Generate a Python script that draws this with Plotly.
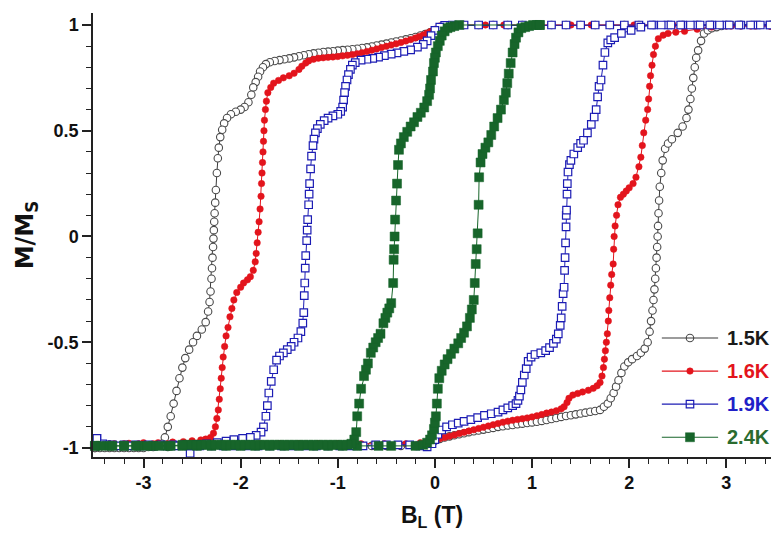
import plotly.graph_objects as go

# ---------------- data (B in tesla, M/Ms) ----------------
labels = ["1.5K", "1.6K", "1.9K", "2.4K"]

p15_dn = [(3.45,1.0),(3.3,1.0),(3.15,1.0),(3.0,1.0),(2.85,1.0),(2.7,1.0),(2.55,1.0),(2.4,1.0),(2.25,1.0),(2.1,1.0),(1.95,1.0),(1.8,1.0),(1.65,1.0),(1.5,1.0),(1.35,1.0),(1.2,1.0),(1.05,1.0),(0.9,1.0),(0.75,1.0),(0.6,1.0),(0.45,1.0),(0.3,1.0),(0.2,0.998),(0.1,0.993),(0.05,0.985),(0.0,0.975),(-0.05,0.965),(-0.1,0.957),(-0.15,0.95),(-0.2,0.943),(-0.25,0.937),(-0.3,0.932),(-0.35,0.927),(-0.4,0.922),(-0.45,0.917),(-0.5,0.912),(-0.55,0.907),(-0.6,0.903),(-0.65,0.898),(-0.7,0.894),(-0.75,0.891),(-0.8,0.888),(-0.85,0.885),(-0.9,0.883),(-0.95,0.881),(-1.0,0.879),(-1.05,0.876),(-1.1,0.874),(-1.15,0.872),(-1.2,0.869),(-1.25,0.866),(-1.3,0.862),(-1.35,0.857),(-1.4,0.852),(-1.45,0.847),(-1.5,0.842),(-1.55,0.838),(-1.6,0.834),(-1.65,0.83),(-1.7,0.824),(-1.74,0.815),(-1.77,0.8),(-1.8,0.78),(-1.82,0.755),(-1.845,0.73),(-1.87,0.705),(-1.89,0.67),(-1.92,0.635),(-1.96,0.612),(-2.0,0.6),(-2.05,0.59),(-2.1,0.578),(-2.14,0.56),(-2.17,0.535),(-2.19,0.505),(-2.21,0.47),(-2.225,0.42),(-2.235,0.37),(-2.245,0.3),(-2.255,0.22),(-2.262,0.16),(-2.268,0.11),(-2.272,0.07),(-2.276,0.03),(-2.28,-0.01),(-2.284,-0.05),(-2.29,-0.1),(-2.295,-0.15),(-2.3,-0.2),(-2.31,-0.26),(-2.32,-0.31),(-2.335,-0.355),(-2.36,-0.405),(-2.4,-0.44),(-2.45,-0.47),(-2.49,-0.5),(-2.53,-0.535),(-2.57,-0.575),(-2.6,-0.62),(-2.63,-0.67),(-2.66,-0.73),(-2.69,-0.79),(-2.72,-0.85),(-2.75,-0.9),(-2.78,-0.95),(-2.81,-0.98),(-2.86,-0.99),(-2.95,-0.995),(-3.05,-1.0),(-3.15,-1.0),(-3.25,-1.0),(-3.35,-1.0),(-3.45,-1.0),(-3.5,-1.0)]

p15_up = [(-3.5,-1.0),(-3.4,-1.0),(-3.3,-1.0),(-3.2,-1.0),(-3.1,-1.0),(-3.0,-1.0),(-2.9,-0.995),(-2.75,-0.995),(-2.6,-0.99),(-2.45,-0.99),(-2.3,-0.99),(-2.15,-0.99),(-2.0,-0.99),(-1.85,-0.99),(-1.7,-0.99),(-1.55,-0.99),(-1.4,-0.99),(-1.25,-0.99),(-1.1,-0.99),(-0.95,-0.99),(-0.8,-0.99),(-0.65,-0.99),(-0.5,-0.99),(-0.35,-0.99),(-0.2,-0.99),(-0.1,-0.985),(-0.05,-0.975),(0.0,-0.965),(0.05,-0.957),(0.1,-0.95),(0.15,-0.945),(0.2,-0.94),(0.25,-0.935),(0.3,-0.93),(0.35,-0.925),(0.4,-0.921),(0.45,-0.917),(0.5,-0.913),(0.55,-0.909),(0.6,-0.905),(0.65,-0.9),(0.7,-0.897),(0.75,-0.894),(0.8,-0.891),(0.85,-0.888),(0.9,-0.885),(0.95,-0.882),(1.0,-0.879),(1.05,-0.876),(1.1,-0.872),(1.15,-0.868),(1.2,-0.863),(1.25,-0.858),(1.3,-0.853),(1.35,-0.849),(1.4,-0.845),(1.45,-0.841),(1.5,-0.837),(1.55,-0.833),(1.6,-0.829),(1.65,-0.825),(1.7,-0.82),(1.74,-0.805),(1.78,-0.79),(1.81,-0.765),(1.84,-0.74),(1.865,-0.71),(1.89,-0.68),(1.92,-0.645),(1.95,-0.615),(1.99,-0.595),(2.03,-0.58),(2.08,-0.565),(2.12,-0.55),(2.16,-0.53),(2.19,-0.5),(2.21,-0.45),(2.225,-0.4),(2.24,-0.35),(2.25,-0.3),(2.26,-0.25),(2.268,-0.2),(2.275,-0.15),(2.282,-0.1),(2.288,-0.05),(2.293,0.0),(2.297,0.05),(2.302,0.11),(2.308,0.17),(2.315,0.235),(2.33,0.3),(2.345,0.36),(2.37,0.415),(2.4,0.44),(2.44,0.46),(2.5,0.49),(2.55,0.52),(2.59,0.56),(2.61,0.6),(2.63,0.65),(2.645,0.7),(2.66,0.75),(2.675,0.8),(2.69,0.845),(2.71,0.88),(2.74,0.925),(2.77,0.96),(2.81,0.975),(2.85,0.985),(2.9,0.99),(2.95,0.995),(3.05,1.0),(3.15,1.0),(3.25,1.0),(3.35,1.0),(3.45,1.0)]

p16_dn = [(3.45,0.995),(3.25,0.995),(3.05,0.995),(2.85,0.995),(2.65,1.0),(2.45,1.0),(2.25,1.0),(2.05,1.0),(1.81,1.0),(1.61,1.0),(1.4,1.0),(1.2,1.0),(1.0,1.0),(0.71,1.0),(0.52,1.0),(0.3,1.0),(0.15,1.0),(0.05,0.995),(0.0,0.98),(-0.04,0.97),(-0.08,0.962),(-0.12,0.953),(-0.16,0.946),(-0.2,0.939),(-0.25,0.931),(-0.3,0.924),(-0.35,0.917),(-0.4,0.911),(-0.45,0.905),(-0.5,0.899),(-0.55,0.893),(-0.6,0.887),(-0.65,0.881),(-0.7,0.875),(-0.75,0.869),(-0.8,0.864),(-0.85,0.86),(-0.9,0.857),(-0.95,0.854),(-1.0,0.851),(-1.05,0.849),(-1.1,0.847),(-1.15,0.845),(-1.2,0.843),(-1.25,0.838),(-1.3,0.83),(-1.33,0.82),(-1.37,0.805),(-1.4,0.79),(-1.45,0.772),(-1.5,0.76),(-1.56,0.75),(-1.61,0.738),(-1.66,0.725),(-1.69,0.705),(-1.72,0.68),(-1.735,0.64),(-1.745,0.6),(-1.755,0.55),(-1.76,0.5),(-1.765,0.45),(-1.77,0.4),(-1.775,0.35),(-1.78,0.3),(-1.785,0.25),(-1.79,0.19),(-1.8,0.13),(-1.81,0.07),(-1.82,0.02),(-1.83,-0.03),(-1.84,-0.08),(-1.85,-0.12),(-1.87,-0.16),(-1.9,-0.19),(-1.93,-0.205),(-1.97,-0.22),(-2.0,-0.24),(-2.04,-0.265),(-2.07,-0.3),(-2.09,-0.34),(-2.11,-0.38),(-2.13,-0.43),(-2.15,-0.47),(-2.165,-0.52),(-2.18,-0.57),(-2.19,-0.62),(-2.2,-0.67),(-2.21,-0.72),(-2.22,-0.77),(-2.23,-0.82),(-2.245,-0.86),(-2.26,-0.9),(-2.28,-0.93),(-2.31,-0.95),(-2.36,-0.958),(-2.41,-0.962),(-2.5,-0.966),(-2.59,-0.97),(-2.7,-0.972),(-2.85,-0.975),(-3.0,-0.975),(-3.15,-0.978),(-3.3,-0.98),(-3.45,-0.98),(-3.5,-0.98)]

p16_up = [(-3.5,-0.98),(-3.35,-0.98),(-3.2,-0.98),(-3.05,-0.98),(-2.9,-0.98),(-2.75,-0.98),(-2.6,-0.98),(-2.4,-0.98),(-2.2,-0.98),(-2.0,-0.98),(-1.8,-0.98),(-1.6,-0.98),(-1.4,-0.98),(-1.2,-0.98),(-1.0,-0.98),(-0.76,-0.98),(-0.52,-0.98),(-0.3,-0.98),(-0.15,-0.975),(-0.05,-0.968),(0.0,-0.962),(0.05,-0.956),(0.1,-0.95),(0.15,-0.944),(0.2,-0.938),(0.25,-0.932),(0.3,-0.926),(0.35,-0.92),(0.4,-0.914),(0.45,-0.908),(0.5,-0.902),(0.55,-0.896),(0.6,-0.89),(0.65,-0.884),(0.7,-0.878),(0.75,-0.873),(0.8,-0.869),(0.85,-0.865),(0.9,-0.862),(0.95,-0.858),(1.0,-0.853),(1.05,-0.848),(1.1,-0.842),(1.15,-0.835),(1.2,-0.83),(1.25,-0.824),(1.3,-0.815),(1.33,-0.805),(1.36,-0.785),(1.38,-0.765),(1.42,-0.75),(1.47,-0.742),(1.52,-0.735),(1.58,-0.727),(1.63,-0.718),(1.67,-0.706),(1.7,-0.69),(1.72,-0.66),(1.735,-0.62),(1.745,-0.58),(1.755,-0.54),(1.765,-0.5),(1.775,-0.46),(1.785,-0.4),(1.79,-0.35),(1.8,-0.29),(1.81,-0.23),(1.82,-0.18),(1.835,-0.13),(1.84,-0.06),(1.845,0.0),(1.855,0.05),(1.87,0.1),(1.885,0.15),(1.91,0.185),(1.94,0.2),(1.97,0.215),(2.0,0.23),(2.04,0.25),(2.07,0.28),(2.1,0.33),(2.12,0.375),(2.135,0.43),(2.15,0.49),(2.17,0.55),(2.19,0.6),(2.2,0.65),(2.21,0.71),(2.22,0.76),(2.235,0.81),(2.25,0.86),(2.27,0.9),(2.3,0.935),(2.35,0.952),(2.4,0.96),(2.48,0.966),(2.57,0.97),(2.7,0.98),(2.85,0.99),(3.0,0.995),(3.15,0.995),(3.3,0.995),(3.45,0.995)]

p19_dn = [(3.45,1.0),(3.3,1.0),(3.15,1.0),(3.0,1.0),(2.85,1.0),(2.7,1.0),(2.55,1.0),(2.4,1.0),(2.25,1.0),(2.1,1.0),(1.95,1.0),(1.8,1.0),(1.65,1.0),(1.5,1.0),(1.35,1.0),(1.2,1.0),(1.05,1.0),(0.9,1.0),(0.75,1.0),(0.6,1.0),(0.45,1.0),(0.3,1.0),(0.18,1.0),(0.1,0.998),(0.05,0.99),(0.0,0.975),(-0.04,0.95),(-0.08,0.925),(-0.12,0.908),(-0.18,0.895),(-0.25,0.882),(-0.32,0.875),(-0.39,0.868),(-0.45,0.862),(-0.52,0.855),(-0.58,0.848),(-0.64,0.842),(-0.7,0.838),(-0.76,0.834),(-0.82,0.822),(-0.85,0.81),(-0.87,0.79),(-0.89,0.765),(-0.905,0.74),(-0.92,0.71),(-0.93,0.68),(-0.94,0.645),(-0.95,0.612),(-0.97,0.592),(-1.0,0.578),(-1.05,0.57),(-1.1,0.56),(-1.14,0.548),(-1.18,0.53),(-1.21,0.51),(-1.23,0.49),(-1.245,0.46),(-1.255,0.43),(-1.27,0.38),(-1.28,0.32),(-1.29,0.25),(-1.295,0.2),(-1.3,0.15),(-1.31,0.08),(-1.315,0.03),(-1.32,-0.02),(-1.33,-0.09),(-1.335,-0.15),(-1.34,-0.22),(-1.345,-0.28),(-1.35,-0.36),(-1.36,-0.41),(-1.38,-0.45),(-1.41,-0.48),(-1.45,-0.5),(-1.48,-0.52),(-1.52,-0.535),(-1.56,-0.55),(-1.6,-0.565),(-1.63,-0.585),(-1.66,-0.63),(-1.685,-0.685),(-1.71,-0.74),(-1.725,-0.8),(-1.74,-0.85),(-1.765,-0.9),(-1.79,-0.925),(-1.84,-0.94),(-1.9,-0.95),(-1.98,-0.955),(-2.07,-0.96),(-2.15,-0.968),(-2.24,-0.975),(-2.35,-0.98),(-2.45,-0.983),(-2.52,-1.025),(-2.59,-0.985),(-2.7,-0.985),(-2.82,-0.985),(-2.95,-0.985),(-3.08,-0.985),(-3.2,-0.985),(-3.32,-0.985),(-3.42,-0.98),(-3.48,-0.955)]

p19_up = [(-3.48,-0.955),(-3.38,-0.985),(-3.26,-0.99),(-3.14,-0.99),(-3.02,-0.99),(-2.9,-0.99),(-2.78,-0.99),(-2.66,-0.99),(-2.54,-0.99),(-2.42,-0.99),(-2.3,-0.99),(-2.18,-0.99),(-2.06,-0.99),(-1.94,-0.99),(-1.82,-0.99),(-1.7,-0.99),(-1.58,-0.99),(-1.46,-0.99),(-1.34,-0.99),(-1.22,-0.99),(-1.1,-0.99),(-0.98,-0.99),(-0.86,-0.99),(-0.74,-0.99),(-0.61,-0.985),(-0.5,-0.985),(-0.38,-0.985),(-0.26,-0.985),(-0.15,-0.99),(-0.08,-0.995),(-0.03,-0.98),(0.0,-0.96),(0.03,-0.935),(0.07,-0.915),(0.12,-0.9),(0.18,-0.89),(0.24,-0.882),(0.3,-0.874),(0.37,-0.866),(0.44,-0.856),(0.51,-0.846),(0.58,-0.838),(0.65,-0.83),(0.7,-0.82),(0.75,-0.81),(0.8,-0.8),(0.835,-0.79),(0.855,-0.775),(0.87,-0.755),(0.885,-0.725),(0.9,-0.69),(0.92,-0.655),(0.94,-0.625),(0.96,-0.59),(0.99,-0.57),(1.03,-0.558),(1.09,-0.55),(1.14,-0.54),(1.18,-0.525),(1.22,-0.505),(1.25,-0.485),(1.27,-0.46),(1.29,-0.42),(1.3,-0.385),(1.31,-0.33),(1.32,-0.27),(1.33,-0.24),(1.335,-0.16),(1.34,-0.1),(1.345,-0.03),(1.35,0.045),(1.352,0.1),(1.355,0.125),(1.36,0.2),(1.363,0.25),(1.37,0.305),(1.385,0.34),(1.4,0.36),(1.43,0.39),(1.47,0.42),(1.5,0.44),(1.53,0.455),(1.57,0.49),(1.61,0.53),(1.64,0.565),(1.66,0.6),(1.675,0.66),(1.69,0.71),(1.71,0.74),(1.73,0.81),(1.75,0.87),(1.78,0.915),(1.81,0.93),(1.85,0.94),(1.92,0.96),(2.02,0.975),(2.12,0.99),(2.23,1.0),(2.33,1.0),(2.43,1.0),(2.53,1.0),(2.63,1.0),(2.73,1.0),(2.83,1.0),(2.93,1.0),(3.03,1.0),(3.13,1.0),(3.25,1.0),(3.35,1.0),(3.45,1.0)]

p24_up = [(-3.5,-0.99),(-3.35,-0.99),(-3.2,-0.99),(-3.05,-0.99),(-2.9,-0.99),(-2.75,-0.99),(-2.6,-0.99),(-2.45,-0.99),(-2.3,-0.99),(-2.15,-0.99),(-2.0,-0.99),(-1.85,-0.99),(-1.7,-0.99),(-1.55,-0.99),(-1.4,-0.99),(-1.25,-0.99),(-1.1,-0.99),(-0.95,-0.99),(-0.8,-0.99),(-0.58,-0.99),(-0.45,-0.99),(-0.2,-0.99),(-0.12,-0.985),(-0.08,-0.975),(-0.05,-0.96),(-0.03,-0.94),(-0.01,-0.91),(0.0,-0.88),(0.01,-0.85),(0.02,-0.79),(0.03,-0.72),(0.045,-0.67),(0.07,-0.635),(0.1,-0.605),(0.13,-0.58),(0.165,-0.555),(0.2,-0.53),(0.24,-0.505),(0.27,-0.48),(0.3,-0.455),(0.33,-0.425),(0.36,-0.385),(0.38,-0.345),(0.4,-0.3),(0.41,-0.22),(0.42,-0.13),(0.43,-0.06),(0.44,0.015),(0.45,0.15),(0.455,0.28),(0.47,0.35),(0.49,0.39),(0.52,0.42),(0.55,0.445),(0.58,0.48),(0.61,0.52),(0.645,0.56),(0.68,0.6),(0.71,0.645),(0.73,0.68),(0.745,0.725),(0.76,0.77),(0.78,0.82),(0.8,0.87),(0.82,0.91),(0.835,0.94),(0.86,0.965),(0.89,0.985),(0.93,0.99),(0.97,0.995),(1.01,1.0),(1.05,1.0),(1.08,1.0)]

p24_dn = [(1.08,1.0),(0.25,1.0),(0.2,0.995),(0.16,0.99),(0.13,0.985),(0.1,0.97),(0.07,0.95),(0.05,0.925),(0.03,0.9),(0.01,0.87),(0.0,0.845),(-0.01,0.82),(-0.02,0.78),(-0.04,0.74),(-0.05,0.7),(-0.06,0.67),(-0.08,0.64),(-0.11,0.61),(-0.145,0.585),(-0.18,0.565),(-0.215,0.54),(-0.25,0.52),(-0.285,0.495),(-0.32,0.47),(-0.35,0.44),(-0.37,0.41),(-0.38,0.338),(-0.39,0.25),(-0.4,0.17),(-0.41,0.08),(-0.415,0.0),(-0.42,-0.06),(-0.425,-0.11),(-0.43,-0.22),(-0.45,-0.315),(-0.47,-0.34),(-0.49,-0.36),(-0.51,-0.385),(-0.53,-0.41),(-0.56,-0.46),(-0.585,-0.48),(-0.61,-0.5),(-0.635,-0.525),(-0.66,-0.55),(-0.69,-0.6),(-0.71,-0.63),(-0.73,-0.66),(-0.76,-0.72),(-0.78,-0.79),(-0.8,-0.85),(-0.81,-0.925),(-0.83,-0.96),(-0.86,-0.98),(-0.9,-0.985),(-0.95,-0.985),(-1.0,-0.985),(-1.05,-0.985),(-1.1,-0.985),(-1.15,-0.985),(-1.2,-0.985),(-1.25,-0.985),(-1.3,-0.985),(-1.35,-0.985),(-1.4,-0.985),(-1.45,-0.985),(-1.5,-0.985),(-1.55,-0.985),(-1.6,-0.985),(-1.65,-0.985),(-1.7,-0.985),(-1.75,-0.985),(-1.8,-0.985),(-1.85,-0.985),(-1.9,-0.985),(-1.95,-0.985),(-2.0,-0.985),(-2.05,-0.985),(-2.1,-0.985),(-2.15,-0.985),(-2.2,-0.985),(-2.25,-0.985),(-2.3,-0.985),(-2.35,-0.985),(-2.4,-0.985),(-2.45,-0.985),(-2.5,-0.985),(-2.55,-0.985),(-2.6,-0.985),(-2.72,-0.99),(-2.84,-0.99),(-2.96,-0.99),(-3.08,-0.99),(-3.2,-0.99),(-3.32,-0.99),(-3.44,-0.99),(-3.5,-0.99)]

xtick_vals = [-3, -2, -1, 0, 1, 2, 3]
xtick_text = ["-3", "-2", "-1", "0", "1", "2", "3"]
ytick_vals = [-1, -0.5, 0, 0.5, 1]
ytick_text = ["-1", "-0.5", "0", "0.5", "1"]

FONT = "Liberation Sans, Arial, Helvetica, sans-serif"

series = [
    (labels[0], p15_dn + p15_up, dict(symbol="circle", size=7.5, color="white", line=dict(color="#4a4a4a", width=1.1)), "#3a3a3a", "#1a1a1a"),
    (labels[1], p16_dn + p16_up, dict(symbol="circle", size=6.5, color="#e3141c", line=dict(color="#e3141c", width=0.5)), "#e3141c", "#e3141c"),
    (labels[2], p19_dn + p19_up, dict(symbol="square", size=7.5, color="white", line=dict(color="#1c1cb4", width=1.2)), "#1c1cb4", "#2020c8"),
    (labels[3], p24_up + p24_dn, dict(symbol="square", size=9, color="#17652a", line=dict(color="#17652a", width=0.5)), "#17652a", "#2a6b2f"),
]

fig = go.Figure()
for name, pts, marker, lcol, tcol in series:
    fig.add_trace(go.Scatter(
        x=[p[0] for p in pts], y=[p[1] for p in pts], mode="lines+markers",
        name=name,
        line=dict(color=lcol, width=1),
        marker=marker,
        cliponaxis=False,
    ))

axis_common = dict(
    showline=True, linecolor="#222", linewidth=1.5, mirror=False,
    ticks="outside", ticklen=9, tickwidth=1.5, tickcolor="#222",
    showgrid=False, zeroline=False, automargin=False,
    tickfont=dict(family=FONT, size=18, color="#111", weight="bold"),
)

fig.update_layout(
    width=771, height=533, autosize=False,
    margin=dict(l=93, r=0, t=13, b=76, autoexpand=False),
    paper_bgcolor="white", plot_bgcolor="white",
    showlegend=False,
    xaxis=dict(
        range=[-3.52, 3.46],
        tickmode="array", tickvals=xtick_vals, ticktext=xtick_text,
        minor=dict(ticks="outside", ticklen=5, tickwidth=1.2, tickcolor="#222", dtick=0.2, tick0=0),
        title=dict(text="B<sub>L</sub> (T)", font=dict(family=FONT, size=23, color="#111", weight="bold"), standoff=15),
        **axis_common,
    ),
    yaxis=dict(
        range=[-1.0426, 1.0567],
        tickmode="array", tickvals=ytick_vals, ticktext=ytick_text,
        minor=dict(ticks="outside", ticklen=5, tickwidth=1.2, tickcolor="#222", dtick=0.1, tick0=0),
        title=dict(text="M/M<sub>S</sub>", font=dict(family="DejaVu Sans, sans-serif", size=24, color="#111", weight="bold"), standoff=7),
        **axis_common,
    ),
    xaxis2=dict(overlaying="x", range=[0, 1], visible=False),
    yaxis2=dict(overlaying="y", range=[0, 1], visible=False),
)

# Legend (bottom right, inside the plot): sample line + marker + coloured label
for i, (name, pts, marker, lcol, tcol) in enumerate(series):
    yrow = 0.268 - i * 0.0745
    fig.add_shape(type="line", xref="paper", yref="paper",
                  x0=0.839, x1=0.922, y0=yrow, y1=yrow,
                  line=dict(color=lcol, width=1.2))
    fig.add_trace(go.Scatter(
        x=[0.8805], y=[yrow], xaxis="x2", yaxis="y2", mode="markers",
        marker=marker, showlegend=False, hoverinfo="skip", cliponaxis=False,
    ))
    fig.add_annotation(xref="paper", yref="paper", x=0.932, y=yrow,
                       xanchor="left", yanchor="middle", showarrow=False,
                       text=name, font=dict(family=FONT, size=20, color=tcol, weight="bold"))

fig.write_html("out.html", config={"displayModeBar": False},
               post_script="document.body.style.margin='0';")
